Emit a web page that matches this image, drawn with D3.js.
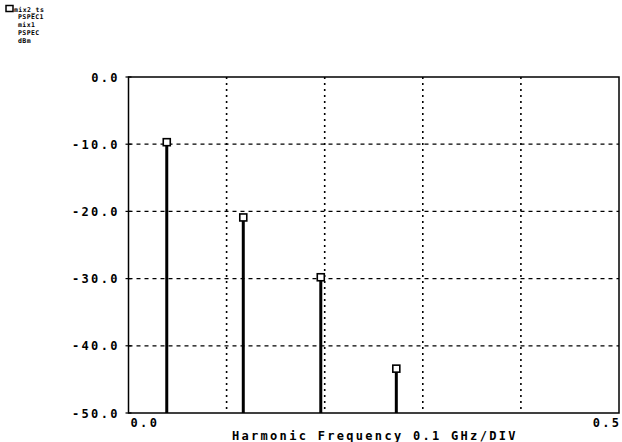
<!DOCTYPE html>
<html><head><meta charset="utf-8">
<script src="https://cdn.jsdelivr.net/npm/d3@7"></script>
<style>body{margin:0;background:#fff;}svg{display:block;}</style>
</head><body>
<script>
const freqs = [0.039, 0.117, 0.196, 0.273];
const levels = [-9.7, -20.9, -29.8, -43.4];
const yTicks = [0, -10, -20, -30, -40, -50];
const xGrid = [0.1, 0.2, 0.3, 0.4];
const xLabels = ["0.0", "0.5"];
const legendLines = ["mix2_ts", "PSPEC1", "mix1", "PSPEC", "dBm"];
const xTitle = "Harmonic Frequency 0.1 GHz/DIV";

const W = 622, H = 442;
const svg = d3.select("body").append("svg").attr("width", W).attr("height", H);
const x = d3.scaleLinear().domain([0, 0.5]).range([128.5, 619]);
const y = d3.scaleLinear().domain([-50, 0]).range([413, 77]);
const font = "'DejaVu Sans Mono', monospace";

// grid
svg.append("g").selectAll("line").data(yTicks.filter(d => d > -50 && d < 0)).join("line")
  .attr("x1", x(0)).attr("x2", x(0.5)).attr("y1", d => y(d)).attr("y2", d => y(d))
  .attr("stroke", "#000").attr("stroke-width", 1.2).attr("stroke-dasharray", "4,4");
svg.append("g").selectAll("line").data(xGrid).join("line")
  .attr("x1", d => x(d)).attr("x2", d => x(d)).attr("y1", y(0)).attr("y2", y(-50))
  .attr("stroke", "#000").attr("stroke-width", 1.6).attr("stroke-dasharray", "2,4");

// frame
svg.append("rect").attr("x", x(0)).attr("y", y(0)).attr("width", x(0.5) - x(0)).attr("height", y(-50) - y(0))
  .attr("fill", "none").attr("stroke", "#000").attr("stroke-width", 1.5);

// y ticks small
svg.append("g").selectAll("line").data(yTicks).join("line")
  .attr("x1", x(0) - 3).attr("x2", x(0) + 3).attr("y1", d => y(d)).attr("y2", d => y(d))
  .attr("stroke", "#000").attr("stroke-width", 1.2);

const lbl = sel => sel.attr("font-family", font).attr("font-weight", "bold")
  .attr("font-size", 12).attr("letter-spacing", 2.4);

// y labels
svg.append("g").selectAll("text").data(yTicks).join("text")
  .attr("x", 120).attr("y", d => y(d) + 4.5)
  .attr("text-anchor", "end").call(lbl).text(d => d3.format(".1f")(d).replace("−", "-"));

// x labels
svg.append("text").attr("x", x(0) + 2).attr("y", 427).call(lbl).text(xLabels[0]);
svg.append("text").attr("x", x(0.5) + 2.5).attr("y", 427).attr("text-anchor", "end").call(lbl).text(xLabels[1]);

// x title
svg.append("text").attr("x", 232).attr("y", 440).call(lbl).attr("letter-spacing", 2.3).text(xTitle);

// stems
const data = freqs.map((f, i) => ({f, v: levels[i]}));
svg.append("g").selectAll("line").data(data).join("line")
  .attr("x1", d => x(d.f)).attr("x2", d => x(d.f)).attr("y1", d => y(d.v) + 3).attr("y2", y(-50))
  .attr("stroke", "#000").attr("stroke-width", 3);
svg.append("g").selectAll("rect").data(data).join("rect")
  .attr("x", d => x(d.f) - 3.5).attr("y", d => y(d.v) - 3.5).attr("width", 7).attr("height", 7)
  .attr("fill", "#fff").attr("stroke", "#000").attr("stroke-width", 1.6);

// legend
const lg = svg.append("g");
lg.append("rect").attr("x", 6).attr("y", 5.5).attr("width", 7).attr("height", 6).attr("fill", "none").attr("stroke", "#000").attr("stroke-width", 1.5);
lg.selectAll("text").data(legendLines).join("text")
  .attr("x", (d, i) => i === 0 ? 14 : 18).attr("y", (d, i) => 11.5 + i * 7.8)
  .attr("font-family", font).attr("font-weight", "bold").attr("font-size", 6.5).attr("letter-spacing", 0.4)
  .text(d => d);
</script>
</body></html>
